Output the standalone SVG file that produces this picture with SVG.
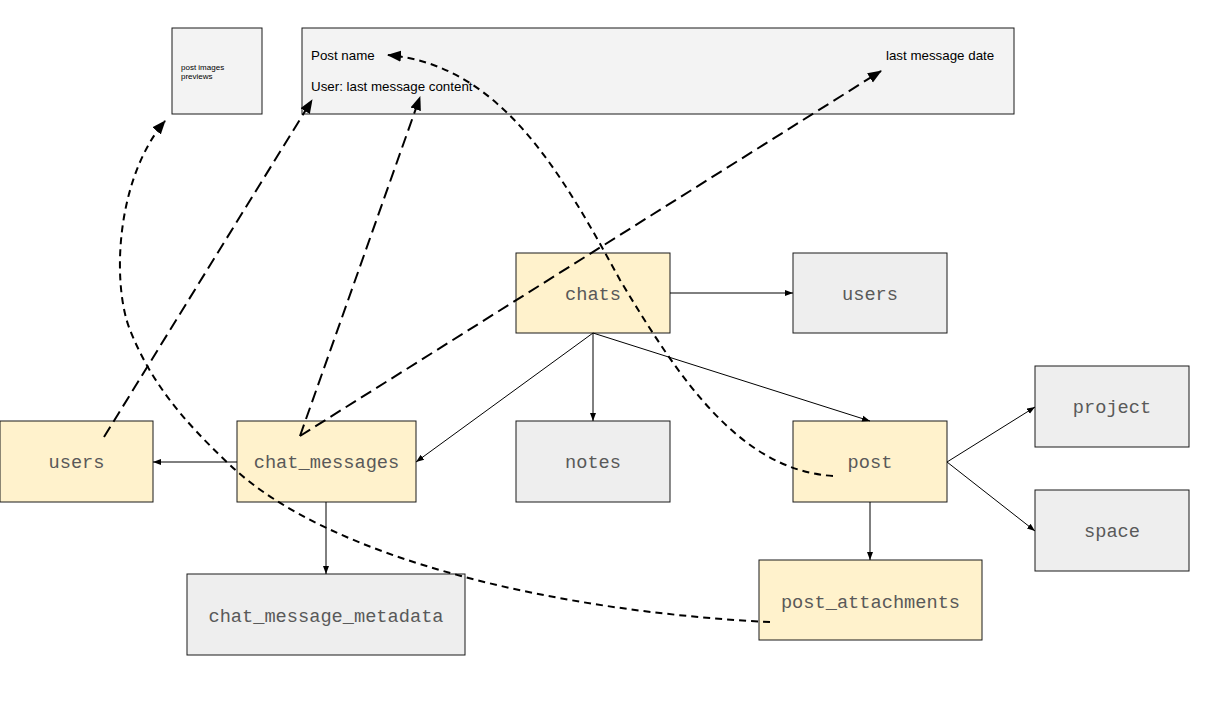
<svg xmlns="http://www.w3.org/2000/svg" width="1207" height="717" viewBox="0 0 1207 717">
<style>
.y{fill:#fff2cc;stroke:#1a1a1a;stroke-width:1}
.g{fill:#eeeeee;stroke:#1a1a1a;stroke-width:1}
.p{fill:#f3f3f3;stroke:#1a1a1a;stroke-width:1}
.lbl{font-family:"Liberation Mono",monospace;font-size:18.67px;fill:#595959;text-anchor:middle}
.t{font-family:"Liberation Sans",Arial,sans-serif;font-size:13.33px;fill:#000}
.s{font-family:"Liberation Sans",Arial,sans-serif;font-size:8px;fill:#000}
.thin{stroke:#000;stroke-width:1;fill:none;marker-end:url(#sa)}
.dl{stroke:#000;stroke-width:2;fill:none;stroke-dasharray:12 6;marker-end:url(#la)}
.dc{stroke:#000;stroke-width:2;fill:none;stroke-dasharray:7 5;marker-end:url(#la)}
</style>
<defs>
<marker id="sa" markerUnits="userSpaceOnUse" markerWidth="8" markerHeight="8" viewBox="0 0 8 8" refX="8" refY="4" orient="auto"><path d="M0,1 L8,4 L0,7 Z" fill="#000"/></marker>
<marker id="la" markerUnits="userSpaceOnUse" markerWidth="14" markerHeight="12" viewBox="0 0 14 12" refX="13" refY="6" orient="auto"><path d="M0,0.5 L14,6 L0,11.5 Z" fill="#000"/></marker>
</defs>
<rect width="1207" height="717" fill="#fff"/>
<g id="previews"><rect class="p" x="172" y="28" width="90" height="86"/><text class="s" x="181" y="70">post images</text><text class="s" x="181" y="79">previews</text></g>
<g id="card"><rect class="p" x="302" y="28" width="712" height="86"/><text class="t" x="311" y="60">Post name</text><text class="t" x="311" y="91">User: last message content</text><text class="t" x="886" y="60">last message date</text></g>
<g id="chats"><rect class="y" x="516" y="253" width="154" height="80"/><text class="lbl" x="593" y="300">chats</text></g>
<g id="users-r"><rect class="g" x="793" y="253" width="154" height="80"/><text class="lbl" x="870" y="300">users</text></g>
<g id="users-l"><rect class="y" x="0" y="421" width="153" height="81"/><text class="lbl" x="76.5" y="468">users</text></g>
<g id="chat_messages"><rect class="y" x="237" y="421" width="179" height="81"/><text class="lbl" x="326.5" y="468">chat_messages</text></g>
<g id="notes"><rect class="g" x="516" y="421" width="154" height="81"/><text class="lbl" x="593" y="468">notes</text></g>
<g id="post"><rect class="y" x="793" y="421" width="154" height="81"/><text class="lbl" x="870" y="468">post</text></g>
<g id="project"><rect class="g" x="1035" y="366" width="154" height="81"/><text class="lbl" x="1112" y="413">project</text></g>
<g id="space"><rect class="g" x="1035" y="490" width="154" height="81"/><text class="lbl" x="1112" y="537">space</text></g>
<g id="chat_message_metadata"><rect class="g" x="187" y="574" width="278" height="81"/><text class="lbl" x="326" y="622">chat_message_metadata</text></g>
<g id="post_attachments"><rect class="y" x="759" y="560" width="223" height="80"/><text class="lbl" x="870.5" y="608">post_attachments</text></g>
<g id="connectors">
<line class="thin" x1="670" y1="293" x2="793" y2="293"/>
<line class="thin" x1="593" y1="333" x2="593" y2="421"/>
<line class="thin" x1="593" y1="333" x2="416" y2="462"/>
<line class="thin" x1="593" y1="333" x2="870" y2="421"/>
<line class="thin" x1="237" y1="462" x2="153" y2="462"/>
<line class="thin" x1="326" y1="502" x2="326" y2="574"/>
<line class="thin" x1="947" y1="462" x2="1035" y2="407"/>
<line class="thin" x1="947" y1="462" x2="1035" y2="531"/>
<line class="thin" x1="870" y1="502" x2="870" y2="560"/>
<line class="dl" x1="104" y1="437" x2="312" y2="100"/>
<line class="dl" x1="300" y1="436" x2="420" y2="97"/>
<line class="dl" x1="300" y1="436" x2="881" y2="71"/>
<path class="dc" d="M833,476 C740,470 680,380 620,280 C560,170 500,65 388,55"/>
<path class="dc" d="M770,622 C560,612 330,560 230,465 C180,418 150,380 130,330 C112,285 115,180 165,121"/>
</g>
</svg>
